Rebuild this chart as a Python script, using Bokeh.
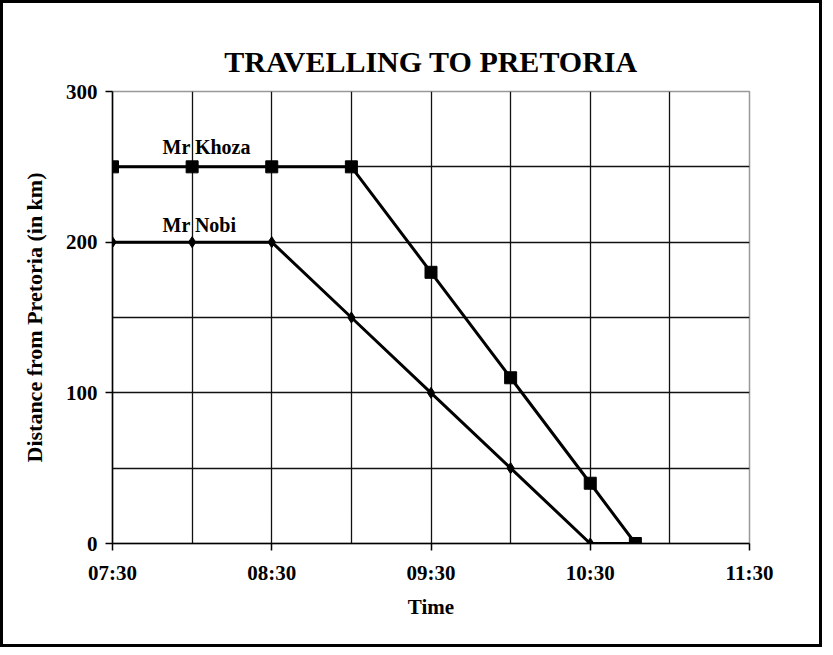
from bokeh.plotting import figure
from bokeh.models import FixedTicker, Label
from bokeh.embed import file_html
from bokeh.resources import INLINE

# Data
times_khoza = ["07:30", "08:00", "08:30", "09:00", "09:30", "10:00", "10:30", "10:47"]
dist_khoza = [250, 250, 250, 250, 180, 110, 40, 0]
times_nobi = ["07:30", "08:00", "08:30", "09:00", "09:30", "10:00", "10:30", "10:47"]
dist_nobi = [200, 200, 200, 150, 100, 50, 0, 0]
x_tick_labels = ["07:30", "08:30", "09:30", "10:30", "11:30"]
y_ticks = [0, 100, 200, 300]


def to_min(t):
    h, m = t.split(":")
    return int(h) * 60 + int(m)


xk = [to_min(t) for t in times_khoza]
xn = [to_min(t) for t in times_nobi]
xt = [to_min(t) for t in x_tick_labels]

FONT = "Liberation Serif"

p = figure(width=822, height=647, output_backend="svg", toolbar_location=None,
           x_range=(xt[0], xt[-1]), y_range=(0, 300),
           min_border_left=109, min_border_right=76, min_border_top=88,
           min_border_bottom=107)
p.styles = {"border": "3px solid black", "box-sizing": "border-box"}
p.background_fill_color = "white"
p.border_fill_color = "white"
p.outline_line_color = "#999999"
p.outline_line_width = 1.5

p.title.text = "TRAVELLING TO PRETORIA"
p.title.text_font = FONT
p.title.text_font_size = "30px"
p.title.text_font_style = "bold"
p.title.align = "center"
p.title.text_color = "black"
p.title.offset = 0
p.title.standoff = 27

p.xaxis.ticker = FixedTicker(ticks=xt)
p.xaxis.major_label_overrides = {v: s for v, s in zip(xt, x_tick_labels)}
p.yaxis.ticker = FixedTicker(ticks=y_ticks)

grid_x = list(range(xt[0], xt[-1] + 1, 30))
p.xgrid.ticker = FixedTicker(ticks=grid_x)
p.ygrid.ticker = FixedTicker(ticks=list(range(0, 301, 50)))
for g in (p.xgrid, p.ygrid):
    g.grid_line_color = "#111111"
    g.grid_line_width = 1.3

for ax in (p.xaxis, p.yaxis):
    ax.axis_line_color = "black"
    ax.axis_line_width = 1.5
    ax.major_tick_line_color = "black"
    ax.major_tick_line_width = 1.5
    ax.major_tick_out = 7
    ax.major_tick_in = 0
    ax.minor_tick_line_color = None
    ax.major_label_text_font = FONT
    ax.major_label_text_font_style = "bold"
    ax.major_label_text_font_size = "21px"
    ax.major_label_text_color = "black"
    ax.axis_label_text_font = FONT
    ax.axis_label_text_font_style = "bold"
    ax.axis_label_text_color = "black"

p.xaxis.axis_label = "Time"
p.xaxis.axis_label_text_font_size = "21px"
p.xaxis.major_label_standoff = 10
p.xaxis.axis_label_standoff = 7
p.yaxis.axis_label = "Distance from Pretoria (in km)"
p.yaxis.axis_label_text_font_size = "22px"
p.yaxis.major_label_standoff = 8
p.yaxis.axis_label_standoff = 16

p.line(xn, dist_nobi, line_color="black", line_width=3)
p.scatter(xn, dist_nobi, marker="diamond", size=11, color="black")
p.line(xk, dist_khoza, line_color="black", line_width=3)
p.scatter(xk, dist_khoza, marker="square", size=12, color="black")

p.add_layout(Label(x=xk[0], y=dist_khoza[0], text="Mr Khoza", x_offset=50, y_offset=9,
                   text_font=FONT, text_font_style="bold", text_font_size="20px",
                   text_color="black"))
p.add_layout(Label(x=xn[0], y=dist_nobi[0], text="Mr Nobi", x_offset=50, y_offset=6,
                   text_font=FONT, text_font_style="bold", text_font_size="20px",
                   text_color="black"))

open("out.html", "w").write(file_html(p, INLINE))
